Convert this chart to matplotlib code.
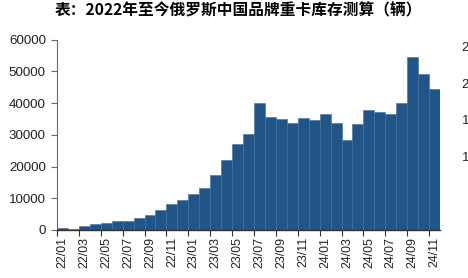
import matplotlib
matplotlib.use('Agg')
import matplotlib.pyplot as plt
import numpy as np

plt.rcParams['font.family'] = ['Liberation Sans', 'DejaVu Sans']

# 月份 22/01 - 24/11
months = [f'{y}/{m:02d}' for y in (22, 23, 24) for m in range(1, 13)][:35]

# 库存测算（辆）
stock = [500, 400, 1250, 1800, 2300, 2800, 2950, 3850, 4850, 6300, 8100, 9600,
         11300, 13300, 17300, 22100, 27100, 30200, 40100, 35700, 34900, 33700, 35200, 34700,
         36600, 33700, 28400, 33300, 37700, 37200, 36500, 40100, 54600, 49200, 44400]

right_ticks = [10, 15, 20, 25]

title = '表：2022年至今俄罗斯中国品牌重卡库存测算（辆）'
bar_color = '#215487'

fig = plt.figure(figsize=(4.68, 2.78), dpi=100)
ax = fig.add_axes([0.1218, 0.1727, 0.9402 - 0.1218, 0.857 - 0.1727])

x = np.arange(len(stock))
ax.bar(x, stock, width=1.0, color=bar_color, edgecolor='#3f6f9f', linewidth=0.4)

ax.set_xlim(-0.5, len(stock) - 0.5)
ax.set_ylim(0, 60000)
ax.set_yticks(range(0, 60001, 10000))

# 刻度线在柱子分界处，标签在柱子中心
ax.set_xticks(np.arange(-0.5, len(stock) - 1, 2))
ax.set_xticklabels([])
ax.set_xticks(x[::2], minor=True)
ax.set_xticklabels(months[::2], minor=True, rotation=90)
ax.tick_params(axis='x', which='minor', length=0, pad=5, labelsize=8.9, colors='#222222')
ax.tick_params(axis='x', which='major', length=4, width=0.8, color='#333333')
ax.tick_params(axis='y', length=4, width=0.8, color='#666666', labelsize=9.6,
               labelcolor='#222222', pad=4)

for s in ('top', 'right'):
    ax.spines[s].set_visible(False)
ax.spines['left'].set_color('#666666')
ax.spines['left'].set_linewidth(0.8)
ax.spines['bottom'].set_color('#333333')
ax.spines['bottom'].set_linewidth(1.0)

# 右侧被裁掉的次坐标轴
ax2 = ax.twinx()
ax2.set_ylim(0, 25.9)
ax2.set_yticks(right_ticks)
ax2.set_yticklabels([str(v) for v in right_ticks])
ax2.tick_params(axis='y', length=0, pad=15.5, labelsize=9.6, labelcolor='#222222')
for s in ax2.spines.values():
    s.set_visible(False)

fig.text(0.51, 0.962, title, ha='center', va='center', fontsize=11.3,
         fontweight='bold', family=['Noto Sans CJK SC', 'DejaVu Sans'])

fig.savefig('out.png', dpi=100)
